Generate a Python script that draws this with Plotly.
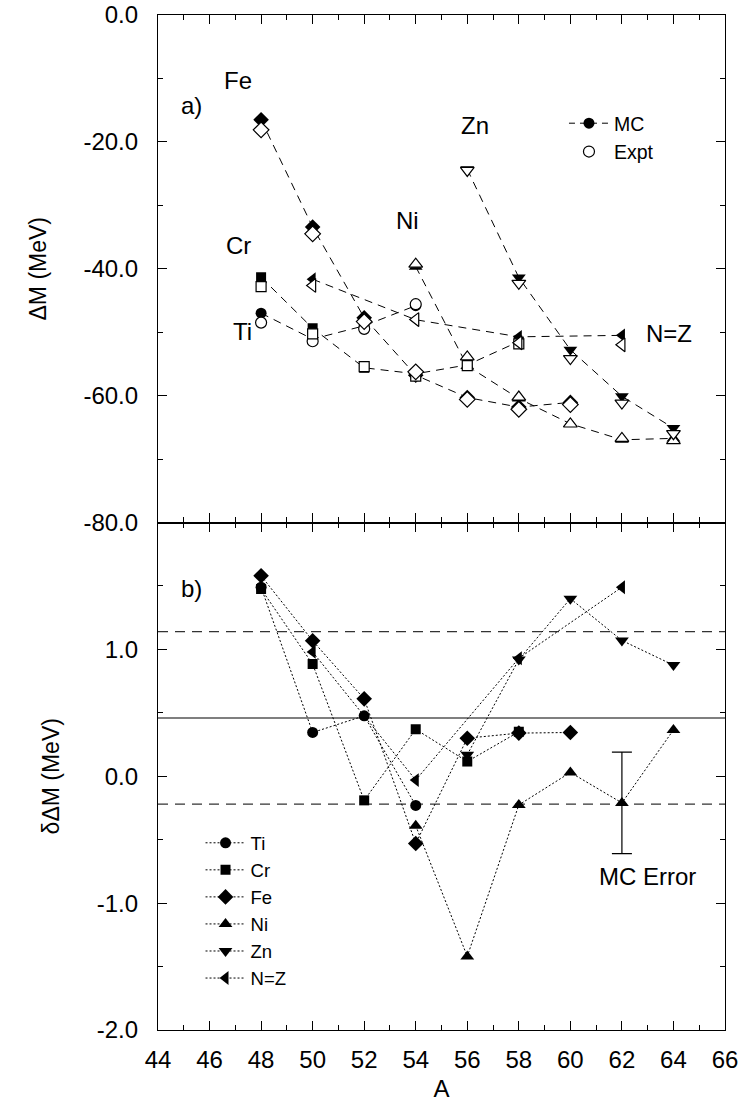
import plotly.graph_objects as go
from plotly.subplots import make_subplots

# ---------------- data ----------------
A_TI = [48, 50, 52, 54]
TI_EXPT = [-48.49, -51.43, -49.47, -45.59]
TI_MC = [-47.00, -51.09, -48.99, -45.82]
TI_DELTA = [1.49, 0.345, 0.476, -0.23]

A_CR = [48, 50, 52, 54, 56, 58]
CR_EXPT = [-42.82, -50.26, -55.42, -56.93, -55.28, -51.83]
CR_MC = [-41.34, -49.38, -55.61, -56.56, -55.16, -51.48]
CR_DELTA = [1.476, 0.884, -0.19, 0.37, 0.116, 0.35]

A_FE = [48, 50, 52, 54, 56, 58, 60]
FE_EXPT = [-18.10, -34.49, -48.33, -56.25, -60.60, -62.15, -61.41]
FE_MC = [-16.52, -33.42, -47.72, -56.78, -60.30, -61.81, -61.07]
FE_DELTA = [1.58, 1.068, 0.61, -0.53, 0.30, 0.34, 0.345]

A_NI = [54, 56, 58, 60, 62, 64]
NI_EXPT = [-39.28, -53.90, -60.23, -64.47, -66.75, -67.10]
NI_MC = [-39.67, -55.32, -60.46, -64.44, -66.96, -66.74]
NI_DELTA = [-0.39, -1.42, -0.226, 0.03, -0.21, 0.365]

A_ZN = [56, 58, 60, 62, 64]
ZN_EXPT = [-24.50, -42.30, -54.17, -61.17, -66.00]
ZN_MC = [-24.33, -41.38, -52.77, -60.10, -65.12]
ZN_DELTA = [0.17, 0.92, 1.40, 1.07, 0.876]

A_NZ = [50, 54, 58, 62]
NZ_EXPT = [-42.63, -48.01, -51.66, -51.99]
NZ_MC = [-41.65, -48.04, -50.73, -50.50]
NZ_DELTA = [0.98, -0.03, 0.93, 1.49]

MEAN_DELTA = 0.46
RMS_DELTA = 0.68
ERR_A = 62
ERR_CENTER = -0.21
ERR_HALF = 0.40

X_TICKS = list(range(44, 67, 2))
TOP_TICKS = [0, -20, -40, -60, -80]
BOT_TICKS = [1, 0, -1, -2]

FONT = "Liberation Sans, Arial, Helvetica, sans-serif"

SERIES = [
    ("Ti", A_TI, TI_MC, TI_EXPT, TI_DELTA, "circle", 11),
    ("Cr", A_CR, CR_MC, CR_EXPT, CR_DELTA, "square", 10),
    ("Fe", A_FE, FE_MC, FE_EXPT, FE_DELTA, "diamond", 12),
    ("Ni", A_NI, NI_MC, NI_EXPT, NI_DELTA, "triangle-up", 12),
    ("Zn", A_ZN, ZN_MC, ZN_EXPT, ZN_DELTA, "triangle-down", 12),
    ("N=Z", A_NZ, NZ_MC, NZ_EXPT, NZ_DELTA, "triangle-left", 12),
]

fig = make_subplots(rows=2, cols=1, shared_xaxes=True, vertical_spacing=0)

# ---- top panel: MC (filled, dashed) ----
for name, a, mc, ex, d, sym, sz in SERIES:
    fig.add_trace(go.Scatter(
        x=a, y=mc, mode="lines+markers", name=name + " MC",
        line=dict(color="black", width=1, dash="8px,6px"),
        marker=dict(symbol=sym, size=sz, color="black"),
        showlegend=False, hoverinfo="skip"), row=1, col=1)
# ---- top panel: Expt (open) ----
for name, a, mc, ex, d, sym, sz in SERIES:
    fig.add_trace(go.Scatter(
        x=a, y=ex, mode="markers", name=name + " Expt",
        marker=dict(symbol=sym, size=sz, color="white",
                    line=dict(color="black", width=1.2)),
        showlegend=False, hoverinfo="skip"), row=1, col=1)

# legend entries of top panel
fig.add_trace(go.Scatter(
    x=[None], y=[None], mode="lines+markers", name="MC",
    line=dict(color="black", width=1, dash="6px,5px"),
    marker=dict(symbol="circle", size=11, color="black"),
    legend="legend"), row=1, col=1)
fig.add_trace(go.Scatter(
    x=[None], y=[None], mode="markers", name="Expt",
    marker=dict(symbol="circle", size=11, color="white",
                line=dict(color="black", width=1.2)),
    legend="legend"), row=1, col=1)

# ---- bottom panel ----
for name, a, mc, ex, d, sym, sz in SERIES:
    fig.add_trace(go.Scatter(
        x=a, y=d, mode="lines+markers", name=name,
        line=dict(color="black", width=1, dash="2px,2px"),
        marker=dict(symbol=sym, size=sz, color="black"),
        legend="legend2", hoverinfo="skip"), row=2, col=1)

# MC error bar
fig.add_trace(go.Scatter(
    x=[ERR_A], y=[ERR_CENTER], mode="markers",
    marker=dict(size=1, color="rgba(0,0,0,0)"),
    error_y=dict(type="data", array=[ERR_HALF], color="black",
                 thickness=1.2, width=10),
    showlegend=False, hoverinfo="skip"), row=2, col=1)

# reference lines
fig.add_hline(y=MEAN_DELTA + RMS_DELTA, row=2, col=1, layer="below",
              line=dict(color="#333333", width=1.2, dash="10px,7px"))
fig.add_hline(y=MEAN_DELTA, row=2, col=1, layer="below",
              line=dict(color="#555555", width=1.5))
fig.add_hline(y=MEAN_DELTA - RMS_DELTA, row=2, col=1, layer="below",
              line=dict(color="#333333", width=1.2, dash="10px,7px"))

axis_common = dict(showline=True, linecolor="black", linewidth=1.2,
                   mirror="allticks", ticks="inside", ticklen=9,
                   tickwidth=1.2, tickcolor="black", showgrid=False,
                   zeroline=False, automargin=False,
                   tickfont=dict(size=24, color="black", family=FONT))
minor_common = dict(ticks="inside", ticklen=5, tickwidth=1.2,
                    tickcolor="black", showgrid=False)

fig.update_xaxes(range=[44, 66], tickmode="linear", tick0=44, dtick=2,
                 minor=dict(dtick=1, tick0=44, **minor_common),
                 ticklabelstandoff=8, **axis_common)
fig.update_xaxes(title=dict(text="A", font=dict(size=24, family=FONT, color="black"),
                            standoff=8), row=2, col=1)
fig.update_yaxes(range=[-80, 0], tickmode="array", tickvals=TOP_TICKS,
                 ticktext=[f"{v:.1f}" for v in TOP_TICKS],
                 minor=dict(tickmode="linear", tick0=-80, dtick=10, **minor_common),
                 ticklabelstandoff=14,
                 title=dict(text="ΔM (MeV)", standoff=30,
                            font=dict(size=23, family=FONT, color="black")),
                 row=1, col=1, **axis_common)
fig.update_yaxes(range=[-2, 2], tickmode="array", tickvals=BOT_TICKS,
                 ticktext=[f"{v:.1f}" for v in BOT_TICKS],
                 minor=dict(tickmode="linear", tick0=-2, dtick=0.5, **minor_common),
                 ticklabelstandoff=14,
                 title=dict(text="δΔM (MeV)", standoff=30,
                            font=dict(size=23, family=FONT, color="black")),
                 row=2, col=1, **axis_common)

ann_font = dict(size=24, family=FONT, color="black")
labels_top = [("Fe", 47.11, -10.4), ("Cr", 47.11, -36.4), ("Ti", 47.29, -49.9),
              ("Ni", 53.69, -32.4), ("Zn", 56.31, -17.4), ("N=Z", 63.81, -50.2),
              ("a)", 45.29, -14.3)]
for txt, xa, ya in labels_top:
    fig.add_annotation(text=txt, x=xa, y=ya, xref="x", yref="y",
                       showarrow=False, font=ann_font)
fig.add_annotation(text="b)", x=45.29, y=1.476, xref="x2", yref="y2",
                   showarrow=False, font=ann_font)
fig.add_annotation(text="MC Error", x=61.04, y=-0.79, xref="x2", yref="y2",
                   xanchor="left", showarrow=False, font=ann_font)

fig.update_layout(
    width=742, height=1104,
    margin=dict(l=158, r=17, t=15, b=74),
    paper_bgcolor="white", plot_bgcolor="white",
    font=dict(family=FONT, color="black"),
    legend=dict(x=0.716, y=0.9123, xanchor="left", yanchor="top",
                bgcolor="rgba(0,0,0,0)", font=dict(size=19.5, family=FONT),
                tracegroupgap=0, itemwidth=40),
    legend2=dict(x=0.075, y=0.2027, xanchor="left", yanchor="top",
                 bgcolor="rgba(0,0,0,0)", font=dict(size=18.5, family=FONT),
                 tracegroupgap=0, itemwidth=40),
)

fig.write_html("out.html")
